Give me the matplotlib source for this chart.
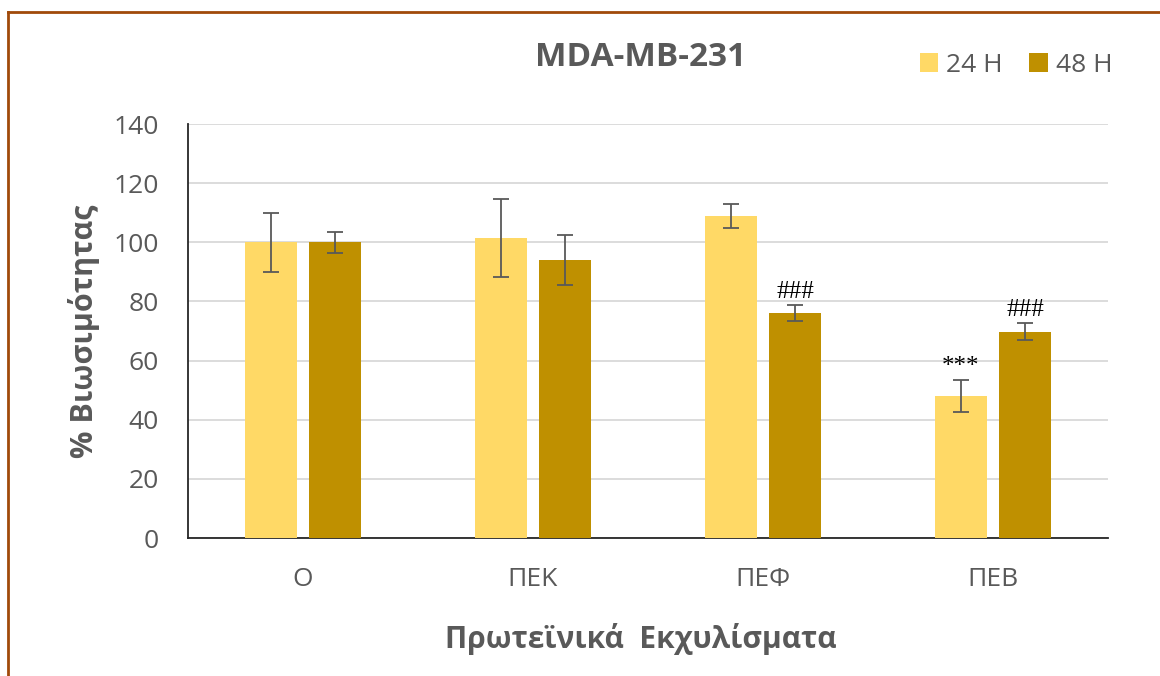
import matplotlib
matplotlib.use("Agg")
import matplotlib.pyplot as plt
from matplotlib.lines import Line2D
import numpy as np

# Data
categories = ["Ο", "ΠΕΚ", "ΠΕΦ", "ΠΕΒ"]
series_names = ["24 H", "48 H"]
viability_24h = [100.0, 101.5, 109.0, 48.0]
error_24h = [10.0, 13.3, 4.0, 5.5]
viability_48h = [100.0, 94.0, 76.2, 69.8]
error_48h = [3.5, 8.6, 2.7, 3.0]
marks_24h = ["", "", "", "***"]
marks_48h = ["", "", "###", "###"]
y_ticks = [0, 20, 40, 60, 80, 100, 120, 140]

color_24 = "#FFD966"
color_48 = "#BF9000"
text_gray = "#595959"

plt.rcParams["font.family"] = ["Open Sans", "DejaVu Sans"]

fig = plt.figure(figsize=(11.6, 6.76), dpi=100)
ax = fig.add_axes([188 / 1160, 1 - 538 / 676, 920 / 1160, 414 / 676])

x = np.arange(len(categories))
width = 0.226
offset = 0.141

err_kw = dict(ecolor=text_gray, elinewidth=1.3, capsize=5.5, capthick=1.3)
b24 = ax.bar(x - offset, viability_24h, width, color=color_24, label=series_names[0],
             yerr=error_24h, error_kw=err_kw, zorder=3)
b48 = ax.bar(x + offset, viability_48h, width, color=color_48, label=series_names[1],
             yerr=error_48h, error_kw=err_kw, zorder=3)

# Significance marks above the error bars
for xs, vals, errs, marks in [(x - offset, viability_24h, error_24h, marks_24h),
                              (x + offset, viability_48h, error_48h, marks_48h)]:
    for xi, v, e, m in zip(xs, vals, errs, marks):
        if m:
            ax.annotate(m, (xi, v + e), xytext=(0, 5), textcoords="offset points",
                        ha="center", va="baseline", fontsize=18,
                        family="Liberation Serif", color="black")

ax.set_xlim(-0.5, len(categories) - 0.5)
ax.set_ylim(0, 140)
ax.set_yticks(y_ticks)
ax.set_xticks(x)
ax.set_xticklabels(categories)
ax.tick_params(axis="y", length=0, pad=21, labelsize=19, labelcolor=text_gray)
ax.tick_params(axis="x", length=0, pad=21, labelsize=19, labelcolor=text_gray)

ax.grid(axis="y", color="#D9D9D9", linewidth=1.3, zorder=0)
ax.set_axisbelow(True)
for side in ["top", "right"]:
    ax.spines[side].set_visible(False)
for side in ["left", "bottom"]:
    ax.spines[side].set_color("#262626")
    ax.spines[side].set_linewidth(1.3)

ax.set_ylabel("% Βιωσιμότητας", fontsize=22, fontweight="bold", color=text_gray, labelpad=10)
ax.set_xlabel("Πρωτεϊνικά  Εκχυλίσματα", fontsize=21.5, fontweight="bold", color=text_gray)
ax.xaxis.set_label_coords((641 - 188) / 920, -(623 - 538) / 414)

fig.text(641 / 1160, 1 - 58 / 676, "MDA-MB-231", ha="center", va="center",
         fontsize=24, fontweight="bold", color=text_gray)

leg = fig.legend(handles=[b24, b48], labels=series_names, loc="center right",
                 bbox_to_anchor=(1136 / 1160, 1 - 65 / 676), ncol=2, frameon=False,
                 fontsize=19, handlelength=0.7, handleheight=0.7, handletextpad=0.3,
                 columnspacing=1.0, labelcolor=text_gray)

# Frame around the figure
border = "#A04A0A"
fig.add_artist(Line2D([8 / 1160, 1.0], [1 - 12 / 676, 1 - 12 / 676], color=border,
                      linewidth=2.0, transform=fig.transFigure))
fig.add_artist(Line2D([8 / 1160, 8 / 1160], [0.0, 1 - 12 / 676], color=border,
                      linewidth=2.0, transform=fig.transFigure))

fig.savefig("out.png", dpi=100, facecolor="white")
